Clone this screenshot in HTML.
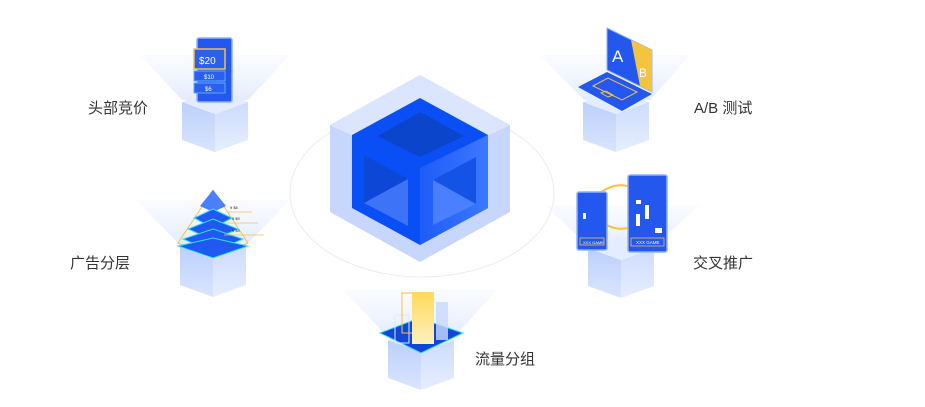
<!DOCTYPE html>
<html><head><meta charset="utf-8"><style>
html,body{margin:0;padding:0;background:#fff;}
svg{display:block}
text{font-family:"Liberation Sans","Noto Sans CJK SC",sans-serif;}
</style></head><body>
<svg width="925" height="407" viewBox="0 0 925 407" xmlns="http://www.w3.org/2000/svg">
<defs>
<linearGradient id="fan" x1="0" y1="0" x2="0" y2="1"><stop offset="0" stop-color="#eef3ff" stop-opacity="0.3"/><stop offset="1" stop-color="#dfe9ff" stop-opacity="0.9"/></linearGradient>
<linearGradient id="lf" x1="0" y1="0" x2="0" y2="1"><stop offset="0" stop-color="#bcd0fb"/><stop offset="1" stop-color="#d9e5fe"/></linearGradient>
<linearGradient id="rf" x1="0" y1="0" x2="0" y2="1"><stop offset="0" stop-color="#cddcfd"/><stop offset="1" stop-color="#e6eeff"/></linearGradient>
<linearGradient id="yb" x1="0" y1="0" x2="0" y2="1"><stop offset="0" stop-color="#ffd95a"/><stop offset="1" stop-color="#fff1c0"/></linearGradient>
<linearGradient id="rb" x1="0" y1="0" x2="1" y2="0"><stop offset="0" stop-color="#1e5cf7"/><stop offset="1" stop-color="#3d78ff"/></linearGradient>
<g id="cube">
<polygon points="-33,0 0,12 0,50 -33,38" fill="url(#lf)"/>
<polygon points="33,0 0,12 0,50 33,38" fill="url(#rf)"/>
<polygon points="0,-12 33,0 0,12 -33,0" fill="#e4edff"/>
</g>
</defs>

<!-- ellipse -->
<ellipse cx="422" cy="193" rx="132" ry="84" fill="none" stroke="#ececec" stroke-width="1"/>

<!-- fans -->
<polygon points="140,55 290,55 248,100 182,100" fill="url(#fan)"/>
<polygon points="540,55 690,55 650,100 584,100" fill="url(#fan)"/>
<polygon points="136,200 290,200 246,245 180,245" fill="url(#fan)"/>
<polygon points="545,205 700,205 654,246 588,246" fill="url(#fan)"/>
<polygon points="343,290 497,290 455,336 387,336" fill="url(#fan)"/>

<!-- center cube -->
<polygon points="420,75 510,125 510,212 420,262 330,212 330,125" fill="#c6d6fd"/>
<polygon points="420,75 510,125 420,168 330,125" fill="#dbe6fe"/>
<polygon points="420,98 488,135 488,208 420,245 352,208 352,135" fill="#0a4ff5"/>
<polygon points="420,168 488,135 488,208 420,245" fill="url(#rb)"/>
<polygon points="420,112 464,136 420,157 378,136" fill="#0b45cc"/>
<polygon points="364,155 408,179 408,226 364,203" fill="#0c47d6"/>
<polygon points="364,203 408,179 408,226" fill="#3d74f7"/>
<polygon points="433,180 476,157 476,204 433,225" fill="#1552e6"/>
<polygon points="433,180 476,204 433,225" fill="#4a80ff"/>

<!-- small cubes -->
<use href="#cube" x="215" y="102"/>
<use href="#cube" x="616" y="102"/>
<use href="#cube" x="213" y="247"/>
<use href="#cube" x="621" y="248"/>
<use href="#cube" x="421" y="340"/>

<!-- tablet -->
<rect x="197" y="38" width="35" height="64" rx="2" fill="#2357ee" stroke="#8fb1ff" stroke-width="1.5"/>
<rect x="194" y="49" width="31" height="20" fill="#2a5ff0" stroke="#f2c14e" stroke-width="1.5"/>
<text x="199" y="64" font-size="10" fill="#fff">$20</text>
<rect x="194" y="71" width="31" height="10" fill="#2a5ff0" stroke="#5fa8ff" stroke-width="1"/>
<text x="204" y="79" font-size="6" fill="#fff">$10</text>
<rect x="194" y="83" width="31" height="10" fill="#2a5ff0" stroke="#5fa8ff" stroke-width="1"/>
<text x="205" y="91" font-size="6" fill="#fff">$6</text>

<!-- laptop -->
<polygon points="607,28 652,50 652,92 607,70" fill="#2357ee" stroke="#8fb1ff" stroke-width="1"/>
<polygon points="631,40 652,50 652,92 640,86" fill="#f4c43c"/>
<text x="612" y="62" font-size="17" fill="#fff">A</text>
<text x="639" y="77" font-size="12" fill="#fff">B</text>
<polygon points="578,87 607,72 652,94 622,111" fill="#2357ee"/>
<polygon points="593,86 608,78 637,92 622,100" fill="none" stroke="#f2c14e" stroke-width="1"/>
<polygon points="601,93 606,91 613,95 608,97" fill="none" stroke="#f2c14e" stroke-width="1"/>

<!-- pyramid -->
<polygon points="213,190 248,243 213,258 178,243" fill="none" stroke="#f2c14e" stroke-width="1"/>
<polygon points="213,190 226,206 213,212 200,206" fill="#4a80ff"/>
<polygon points="213,209 232,218 213,228 194,218" fill="#1f59ef" stroke="#33e0ff" stroke-width="1"/>
<polygon points="213,219 238,229 213,240 188,229" fill="#1f59ef" stroke="#33e0ff" stroke-width="1"/>
<polygon points="213,229 243,239 213,252 183,239" fill="#1f59ef" stroke="#33e0ff" stroke-width="1"/>
<polygon points="213,238 248,246 213,258 178,246" fill="#1f59ef" stroke="#33e0ff" stroke-width="1"/>
<g stroke="#f2c14e" stroke-width="0.8"><line x1="228" y1="212" x2="252" y2="212"/><line x1="226" y1="223" x2="258" y2="223"/><line x1="224" y1="235" x2="264" y2="235"/></g>
<g font-size="4" fill="#333"><text x="230" y="209">¥ $8</text><text x="232" y="220">¥ $9</text><text x="232" y="232">¥ $9</text></g>

<!-- phones -->
<path d="M600,193 Q620,178 640,192" fill="none" stroke="#f4c43c" stroke-width="2"/>
<path d="M605,224 Q625,236 645,218" fill="none" stroke="#f4c43c" stroke-width="2"/>
<rect x="577" y="192" width="30" height="58" rx="2" fill="#2357ee" stroke="#8fb1ff" stroke-width="1.5"/>
<rect x="580" y="238" width="24" height="7" fill="none" stroke="#f2c14e" stroke-width="0.8"/>
<text x="583" y="244" font-size="4" fill="#fff">XXX GAME</text>
<rect x="628" y="175" width="39" height="77" rx="2" fill="#2357ee" stroke="#8fb1ff" stroke-width="1.5"/>
<rect x="631" y="238" width="33" height="8" fill="none" stroke="#f2c14e" stroke-width="0.8"/>
<text x="636" y="244" font-size="4.5" fill="#fff">XXX GAME</text>
<g fill="#fff"><rect x="583" y="213" width="3" height="6"/><rect x="636" y="200" width="5" height="4"/><rect x="645" y="205" width="4" height="14"/><rect x="636" y="214" width="4" height="12"/><rect x="655" y="228" width="7" height="5"/></g>

<!-- bar chart -->
<polygon points="380,333 419,318 463,333 421,353" fill="#1246d6" stroke="#33e0ff" stroke-width="1"/>
<rect x="395" y="315" width="14" height="28" fill="none" stroke="#dfe8ff" stroke-width="1"/>
<rect x="402" y="293" width="14" height="40" fill="none" stroke="#f4c43c" stroke-width="1"/>
<rect x="412" y="292" width="22" height="52" fill="url(#yb)"/>
<rect x="436" y="302" width="12" height="38" fill="#c8d8ff" opacity="0.8"/>

<!-- labels -->
<g font-size="15" fill="#333">
<text x="88" y="113">头部竞价</text>
<text x="694" y="113">A/B 测试</text>
<text x="70" y="268">广告分层</text>
<text x="693" y="268">交叉推广</text>
<text x="475" y="364">流量分组</text>
</g>
</svg>
</body></html>
